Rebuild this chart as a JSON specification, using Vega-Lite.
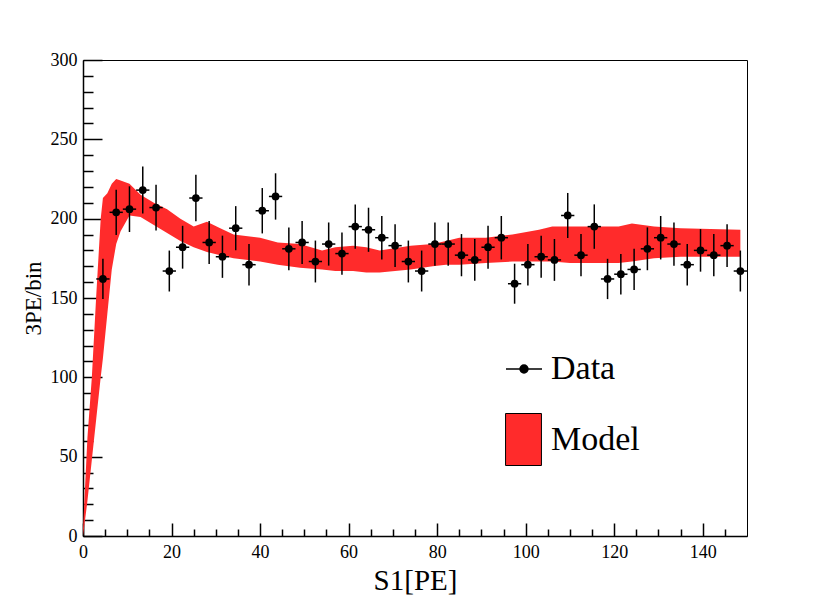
{
  "$schema": "https://vega.github.io/schema/vega-lite/v6.json",
  "width": 664,
  "height": 476,
  "autosize": {"type": "none"},
  "padding": {"left": 83, "top": 60, "right": 83, "bottom": 60},
  "background": "white",
  "config": {
    "view": {"stroke": "black", "strokeWidth": 1},
    "axis": {
      "grid": false,
      "domainColor": "black",
      "domainWidth": 1.5,
      "tickColor": "black",
      "tickWidth": 1.5,
      "labelFlush": false,
      "labelFont": "Liberation Serif",
      "labelFontSize": 18,
      "labelColor": "black",
      "titleFont": "Liberation Serif",
      "titleFontWeight": "normal",
      "titleColor": "black"
    },
    "legend": {
      "labelFont": "Liberation Serif",
      "labelFontSize": 34,
      "labelColor": "black",
      "labelLimit": 300,
      "padding": 0
    }
  },
  "datasets": {
    "model": [
      {"x": 0, "lo": 0, "hi": 4},
      {"x": 1, "lo": 22, "hi": 62},
      {"x": 2, "lo": 48, "hi": 100},
      {"x": 3, "lo": 74, "hi": 152},
      {"x": 4, "lo": 100, "hi": 200},
      {"x": 4.5, "lo": 112, "hi": 213},
      {"x": 5.5, "lo": 140, "hi": 216},
      {"x": 6.5, "lo": 168, "hi": 222},
      {"x": 7.5, "lo": 184, "hi": 225},
      {"x": 8.5, "lo": 192, "hi": 224},
      {"x": 10.5, "lo": 202, "hi": 222},
      {"x": 13, "lo": 201, "hi": 215},
      {"x": 16, "lo": 196, "hi": 210},
      {"x": 19, "lo": 191, "hi": 206},
      {"x": 22, "lo": 186, "hi": 200},
      {"x": 25, "lo": 182, "hi": 195},
      {"x": 28, "lo": 179, "hi": 198},
      {"x": 31, "lo": 177, "hi": 194},
      {"x": 34, "lo": 175, "hi": 190},
      {"x": 40, "lo": 173, "hi": 188},
      {"x": 44, "lo": 171, "hi": 185},
      {"x": 49, "lo": 169, "hi": 184},
      {"x": 54, "lo": 168, "hi": 180},
      {"x": 57, "lo": 167, "hi": 182},
      {"x": 61, "lo": 167, "hi": 183},
      {"x": 64, "lo": 166, "hi": 182},
      {"x": 67, "lo": 166, "hi": 180},
      {"x": 74, "lo": 168, "hi": 183},
      {"x": 79, "lo": 170, "hi": 184},
      {"x": 82, "lo": 171, "hi": 186},
      {"x": 85, "lo": 171, "hi": 188},
      {"x": 91, "lo": 172, "hi": 188},
      {"x": 97, "lo": 173, "hi": 190},
      {"x": 103, "lo": 173, "hi": 193},
      {"x": 106, "lo": 173, "hi": 195},
      {"x": 110, "lo": 172, "hi": 195},
      {"x": 121, "lo": 172, "hi": 195},
      {"x": 124, "lo": 173, "hi": 197},
      {"x": 129, "lo": 175, "hi": 195},
      {"x": 135, "lo": 176, "hi": 194},
      {"x": 148.5, "lo": 176, "hi": 193}
    ],
    "data": [
      {"x": 4.5, "x0": 3, "x1": 6, "y": 162, "e": 12.7},
      {"x": 7.5, "x0": 6, "x1": 9, "y": 204, "e": 14.3},
      {"x": 10.5, "x0": 9, "x1": 12, "y": 206, "e": 14.4},
      {"x": 13.5, "x0": 12, "x1": 15, "y": 218, "e": 14.8},
      {"x": 16.5, "x0": 15, "x1": 18, "y": 207, "e": 14.4},
      {"x": 19.5, "x0": 18, "x1": 21, "y": 167, "e": 12.9},
      {"x": 22.5, "x0": 21, "x1": 24, "y": 182, "e": 13.5},
      {"x": 25.5, "x0": 24, "x1": 27, "y": 213, "e": 14.6},
      {"x": 28.5, "x0": 27, "x1": 30, "y": 185, "e": 13.6},
      {"x": 31.5, "x0": 30, "x1": 33, "y": 176, "e": 13.3},
      {"x": 34.5, "x0": 33, "x1": 36, "y": 194, "e": 13.9},
      {"x": 37.5, "x0": 36, "x1": 39, "y": 171, "e": 13.1},
      {"x": 40.5, "x0": 39, "x1": 42, "y": 205, "e": 14.3},
      {"x": 43.5, "x0": 42, "x1": 45, "y": 214, "e": 14.6},
      {"x": 46.5, "x0": 45, "x1": 48, "y": 181, "e": 13.5},
      {"x": 49.5, "x0": 48, "x1": 51, "y": 185, "e": 13.6},
      {"x": 52.5, "x0": 51, "x1": 54, "y": 173, "e": 13.2},
      {"x": 55.5, "x0": 54, "x1": 57, "y": 184, "e": 13.6},
      {"x": 58.5, "x0": 57, "x1": 60, "y": 178, "e": 13.3},
      {"x": 61.5, "x0": 60, "x1": 63, "y": 195, "e": 14.0},
      {"x": 64.5, "x0": 63, "x1": 66, "y": 193, "e": 13.9},
      {"x": 67.5, "x0": 66, "x1": 69, "y": 188, "e": 13.7},
      {"x": 70.5, "x0": 69, "x1": 72, "y": 183, "e": 13.5},
      {"x": 73.5, "x0": 72, "x1": 75, "y": 173, "e": 13.2},
      {"x": 76.5, "x0": 75, "x1": 78, "y": 167, "e": 12.9},
      {"x": 79.5, "x0": 78, "x1": 81, "y": 184, "e": 13.6},
      {"x": 82.5, "x0": 81, "x1": 84, "y": 184, "e": 13.6},
      {"x": 85.5, "x0": 84, "x1": 87, "y": 177, "e": 13.3},
      {"x": 88.5, "x0": 87, "x1": 90, "y": 174, "e": 13.2},
      {"x": 91.5, "x0": 90, "x1": 93, "y": 182, "e": 13.5},
      {"x": 94.5, "x0": 93, "x1": 96, "y": 188, "e": 13.7},
      {"x": 97.5, "x0": 96, "x1": 99, "y": 159, "e": 12.6},
      {"x": 100.5, "x0": 99, "x1": 102, "y": 171, "e": 13.1},
      {"x": 103.5, "x0": 102, "x1": 105, "y": 176, "e": 13.3},
      {"x": 106.5, "x0": 105, "x1": 108, "y": 174, "e": 13.2},
      {"x": 109.5, "x0": 108, "x1": 111, "y": 202, "e": 14.2},
      {"x": 112.5, "x0": 111, "x1": 114, "y": 177, "e": 13.3},
      {"x": 115.5, "x0": 114, "x1": 117, "y": 195, "e": 14.0},
      {"x": 118.5, "x0": 117, "x1": 120, "y": 162, "e": 12.7},
      {"x": 121.5, "x0": 120, "x1": 123, "y": 165, "e": 12.8},
      {"x": 124.5, "x0": 123, "x1": 126, "y": 168, "e": 13.0},
      {"x": 127.5, "x0": 126, "x1": 129, "y": 181, "e": 13.5},
      {"x": 130.5, "x0": 129, "x1": 132, "y": 188, "e": 13.7},
      {"x": 133.5, "x0": 132, "x1": 135, "y": 184, "e": 13.6},
      {"x": 136.5, "x0": 135, "x1": 138, "y": 171, "e": 13.1},
      {"x": 139.5, "x0": 138, "x1": 141, "y": 180, "e": 13.4},
      {"x": 142.5, "x0": 141, "x1": 144, "y": 177, "e": 13.3},
      {"x": 145.5, "x0": 144, "x1": 147, "y": 183, "e": 13.5},
      {"x": 148.5, "x0": 147, "x1": 150, "y": 167, "e": 12.9}
    ]
  },
  "layer": [
    {
      "data": {"name": "model"},
      "mark": {"type": "area", "interpolate": "linear"},
      "encoding": {
        "x": {
          "field": "x",
          "type": "quantitative",
          "scale": {"domain": [0, 150], "nice": false, "zero": false},
          "axis": {
            "orient": "bottom",
            "values": [0, 20, 40, 60, 80, 100, 120, 140],
            "tickSize": -13,
            "labelPadding": 20,
            "labelFlush": false,
            "title": "S1[PE]",
            "titleFontSize": 29,
            "titlePadding": 5
          }
        },
        "y": {
          "field": "lo",
          "type": "quantitative",
          "scale": {"domain": [0, 300], "nice": false},
          "axis": {
            "orient": "left",
            "values": [0, 50, 100, 150, 200, 250, 300],
            "tickSize": -19,
            "labelPadding": 25,
            "labelFlush": false,
            "title": "3PE/bin",
            "titleFontSize": 23,
            "titlePadding": 5
          }
        },
        "y2": {"field": "hi"},
        "fill": {
          "datum": "Model",
          "type": "nominal",
          "scale": {"domain": ["Model"], "range": ["#ff2b2b"]},
          "legend": {
            "title": null,
            "orient": "none",
            "legendX": 414,
            "legendY": 353,
            "symbolType": "M-0.69,-1H0.69V1H-0.69Z",
            "symbolSize": 2704,
            "symbolStrokeColor": "black",
            "symbolStrokeWidth": 1,
            "symbolFillColor": "#ff2b2b",
            "symbolOpacity": 1,
            "labelOffset": 1
          }
        }
      }
    },
    {
      "data": {"name": "data"},
      "mark": {"type": "errorbar", "color": "black", "thickness": 1.5},
      "encoding": {
        "x": {
          "field": "x",
          "type": "quantitative",
          "axis": {
            "orient": "bottom",
            "values": [5, 10, 15, 25, 30, 35, 45, 50, 55, 65, 70, 75, 85, 90, 95, 105, 110, 115, 125, 130, 135, 145],
            "tickSize": -7,
            "labels": false,
            "domain": false,
            "title": null
          }
        },
        "y": {
          "field": "y",
          "type": "quantitative",
          "axis": {
            "orient": "left",
            "values": [10, 20, 30, 40, 60, 70, 80, 90, 110, 120, 130, 140, 160, 170, 180, 190, 210, 220, 230, 240, 260, 270, 280, 290],
            "tickSize": -10,
            "labels": false,
            "domain": false,
            "title": null
          }
        },
        "yError": {"field": "e"}
      }
    },
    {
      "data": {"name": "data"},
      "mark": {"type": "rule", "color": "black", "strokeWidth": 1.5},
      "encoding": {
        "x": {"field": "x0", "type": "quantitative", "axis": null},
        "x2": {"field": "x1"},
        "y": {"field": "y", "type": "quantitative", "axis": null}
      }
    },
    {
      "data": {"name": "data"},
      "mark": {"type": "point", "shape": "circle", "filled": true, "size": 60, "opacity": 1},
      "encoding": {
        "x": {"field": "x", "type": "quantitative", "axis": null},
        "y": {"field": "y", "type": "quantitative", "axis": null},
        "color": {
          "datum": "Data",
          "type": "nominal",
          "scale": {"domain": ["Data"], "range": ["black"]},
          "legend": {
            "title": null,
            "orient": "none",
            "legendX": 422,
            "legendY": 290,
            "symbolType": "M-1,0H1M-0.22,0A0.22,0.22 0 1,1 0.22,0A0.22,0.22 0 1,1 -0.22,0Z",
            "symbolSize": 1296,
            "symbolStrokeColor": "black",
            "symbolStrokeWidth": 1.5,
            "symbolFillColor": "black",
            "labelOffset": 8
          }
        }
      }
    }
  ],
  "resolve": {"axis": {"x": "independent", "y": "independent"}}
}
